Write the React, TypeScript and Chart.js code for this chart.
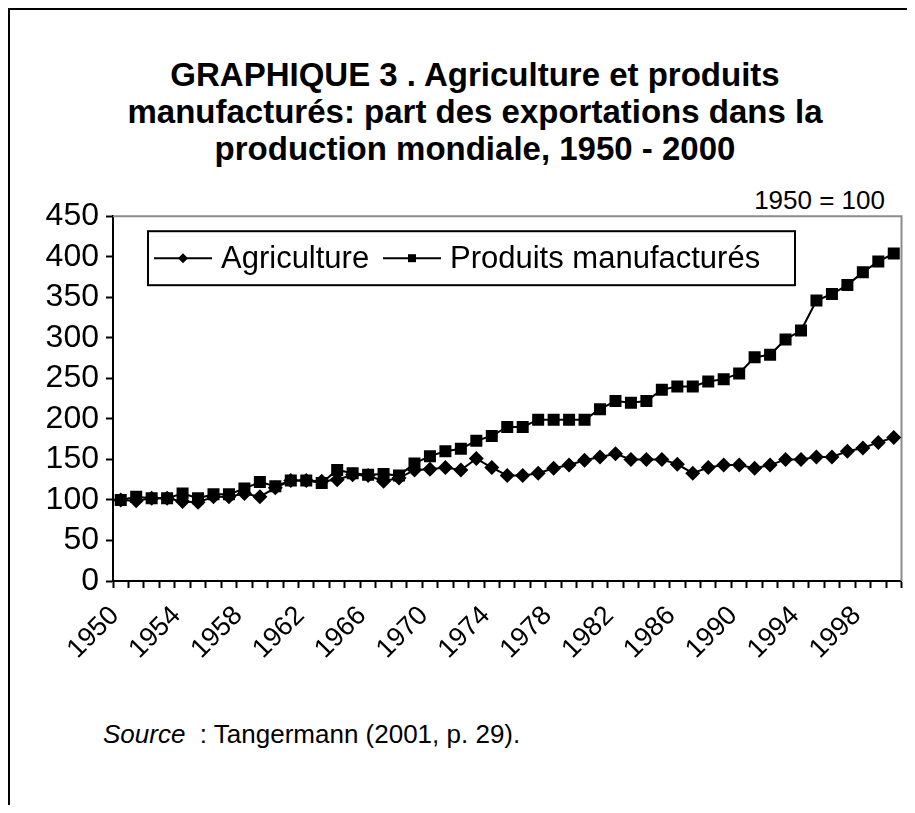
import React, { useEffect, useRef } from "react";
import { Chart, registerables } from "chart.js";

Chart.register(...registerables);

const years = [
  "1950", "1951", "1952", "1953", "1954", "1955", "1956", "1957", "1958", "1959",
  "1960", "1961", "1962", "1963", "1964", "1965", "1966", "1967", "1968", "1969",
  "1970", "1971", "1972", "1973", "1974", "1975", "1976", "1977", "1978", "1979",
  "1980", "1981", "1982", "1983", "1984", "1985", "1986", "1987", "1988", "1989",
  "1990", "1991", "1992", "1993", "1994", "1995", "1996", "1997", "1998", "1999",
  "2000",
];

const agriculture = [
  100, 99, 102, 102, 98, 97, 104, 104, 108, 104,
  115, 124, 124, 123, 125, 131, 130, 123, 127, 137,
  138, 140, 137, 151, 140, 130, 130, 133, 139, 143,
  149, 153, 157, 150, 150, 150, 144, 133, 140, 143,
  143, 139, 143, 150, 150, 153, 153, 160, 164, 171,
  177,
];

const manufactured = [
  100, 104, 102, 102, 108, 102, 107, 107, 114, 122,
  117, 124, 124, 121, 137, 133, 131, 132, 130, 145,
  154, 160, 163, 173, 179, 190, 190, 199, 199, 199,
  199, 212, 222, 220, 222, 236, 240, 240, 246, 249,
  256, 276, 279, 298, 309, 346, 354, 365, 381, 394,
  404,
];

const seriesNames = ["Agriculture", "Produits manufacturés"];
const yMin = 0;
const yMax = 450;
const yStep = 50;
const labelEvery = 4;

const titleLines = [
  "GRAPHIQUE 3 . Agriculture et produits",
  "manufacturés: part des exportations dans la",
  "production mondiale, 1950 - 2000",
];
const baseNote = "1950 = 100";
const sourceLabel = "Source";
const sourceText = "  : Tangermann (2001, p. 29).";

const FONT = "'Liberation Sans', Arial, Helvetica, sans-serif";

const plotFramePlugin = {
  id: "plotFrame",
  beforeDatasetsDraw(chart: any) {
    const { ctx, chartArea: a } = chart;
    ctx.save();
    ctx.strokeStyle = "#8c8c8c";
    ctx.lineWidth = 2;
    ctx.beginPath();
    ctx.moveTo(a.left, a.top);
    ctx.lineTo(a.right, a.top);
    ctx.lineTo(a.right, a.bottom);
    ctx.stroke();
    ctx.restore();
  },
};

function drawMarker(ctx: CanvasRenderingContext2D, style: string, x: number, y: number) {
  ctx.beginPath();
  if (style === "rectRot") {
    const r = 5;
    ctx.moveTo(x, y - r);
    ctx.lineTo(x + r, y);
    ctx.lineTo(x, y + r);
    ctx.lineTo(x - r, y);
    ctx.closePath();
  } else {
    const s = 4;
    ctx.rect(x - s, y - s, 2 * s, 2 * s);
  }
  ctx.fill();
}

const legendBoxPlugin = {
  id: "legendBox",
  afterDraw(chart: any) {
    const { ctx, chartArea: a } = chart;
    const x0 = a.left + 35;
    const y0 = a.top + 15;
    const w = 647;
    const h = 54;
    ctx.save();
    ctx.fillStyle = "#ffffff";
    ctx.fillRect(x0, y0, w, h);
    ctx.strokeStyle = "#000000";
    ctx.lineWidth = 2;
    ctx.strokeRect(x0, y0, w, h);
    const cy = y0 + h / 2;
    const offsets = [6, 235];
    chart.data.datasets.forEach((ds: any, i: number) => {
      const lx = x0 + offsets[i];
      ctx.strokeStyle = "#000";
      ctx.lineWidth = 2;
      ctx.beginPath();
      ctx.moveTo(lx, cy);
      ctx.lineTo(lx + 58, cy);
      ctx.stroke();
      ctx.fillStyle = "#000";
      drawMarker(ctx, ds.pointStyle, lx + 29, cy);
      ctx.font = `31px ${FONT}`;
      ctx.textBaseline = "middle";
      ctx.textAlign = "left";
      ctx.fillText(ds.label, lx + 67, cy + 1);
    });
    ctx.restore();
  },
};

export default function App() {
  const canvasRef = useRef<HTMLCanvasElement | null>(null);

  useEffect(() => {
    if (!canvasRef.current) return;
    const chart = new Chart(canvasRef.current, {
      type: "line",
      data: {
        labels: years,
        datasets: [
          {
            label: seriesNames[0],
            data: agriculture,
            borderColor: "#000",
            backgroundColor: "#000",
            borderWidth: 2,
            pointStyle: "rectRot",
            pointRadius: 7.5,
            pointBorderWidth: 0,
            pointBackgroundColor: "#000",
            tension: 0,
          },
          {
            label: seriesNames[1],
            data: manufactured,
            borderColor: "#000",
            backgroundColor: "#000",
            borderWidth: 2,
            pointStyle: "rect",
            pointRadius: 8.5,
            pointBorderWidth: 0,
            pointBackgroundColor: "#000",
            tension: 0,
          },
        ],
      },
      options: {
        animation: false,
        responsive: false,
        devicePixelRatio: 1,
        layout: { padding: { left: 0, right: 6, top: 26, bottom: 39 } },
        plugins: {
          legend: { display: false },
          title: { display: false },
          tooltip: { enabled: false },
        },
        scales: {
          x: {
            type: "category",
            offset: true,
            grid: {
              offset: true,
              drawOnChartArea: false,
              tickLength: 7,
              tickColor: "#000",
              tickWidth: 2,
            },
            border: { display: true, color: "#000", width: 2 },
            ticks: {
              autoSkip: false,
              minRotation: 45,
              maxRotation: 45,
              color: "#000",
              padding: 12,
              labelOffset: -6,
              font: { family: FONT, size: 27 },
              callback: (_v: any, idx: number) => (idx % labelEvery === 0 ? years[idx] : ""),
            },
            afterFit: (s: any) => {
              s.height = 90;
              s.paddingLeft = 0;
              s.paddingRight = 0;
            },
          },
          y: {
            min: yMin,
            max: yMax,
            grid: {
              drawOnChartArea: false,
              tickLength: 7,
              tickColor: "#000",
              tickWidth: 2,
            },
            border: { display: true, color: "#000", width: 2 },
            ticks: {
              stepSize: yStep,
              autoSkip: false,
              color: "#000",
              padding: 7,
              font: { family: FONT, size: 32 },
            },
            afterFit: (s: any) => {
              s.width = 103;
            },
          },
        },
      },
      plugins: [plotFramePlugin, legendBoxPlugin],
    });
    return () => chart.destroy();
  }, []);

  return (
    <div
      style={{
        position: "relative",
        width: 900,
        height: 795,
        borderLeft: "2px solid #000",
        borderRight: "2px solid #000",
        borderTop: "2px solid #000",
        fontFamily: FONT,
        color: "#000",
        overflow: "hidden",
      }}
    >
      <div
        style={{
          position: "absolute",
          left: 30,
          top: 46,
          width: 870,
          textAlign: "center",
          fontWeight: "bold",
          fontSize: 33,
          lineHeight: "37px",
          whiteSpace: "nowrap",
        }}
      >
        {titleLines.map((t, i) => (
          <div key={i}>{t}</div>
        ))}
      </div>
      <div
        style={{
          position: "absolute",
          right: 25,
          top: 176,
          fontSize: 26,
          lineHeight: "28px",
          whiteSpace: "nowrap",
        }}
      >
        {baseNote}
      </div>
      <canvas
        ref={canvasRef}
        width={900}
        height={520}
        style={{ position: "absolute", left: 0, top: 180, width: 900, height: 520 }}
      />
      <div
        style={{
          position: "absolute",
          left: 93,
          top: 710,
          fontSize: 26,
          lineHeight: "28px",
          whiteSpace: "pre",
        }}
      >
        <i>{sourceLabel}</i>
        {sourceText}
      </div>
    </div>
  );
}
